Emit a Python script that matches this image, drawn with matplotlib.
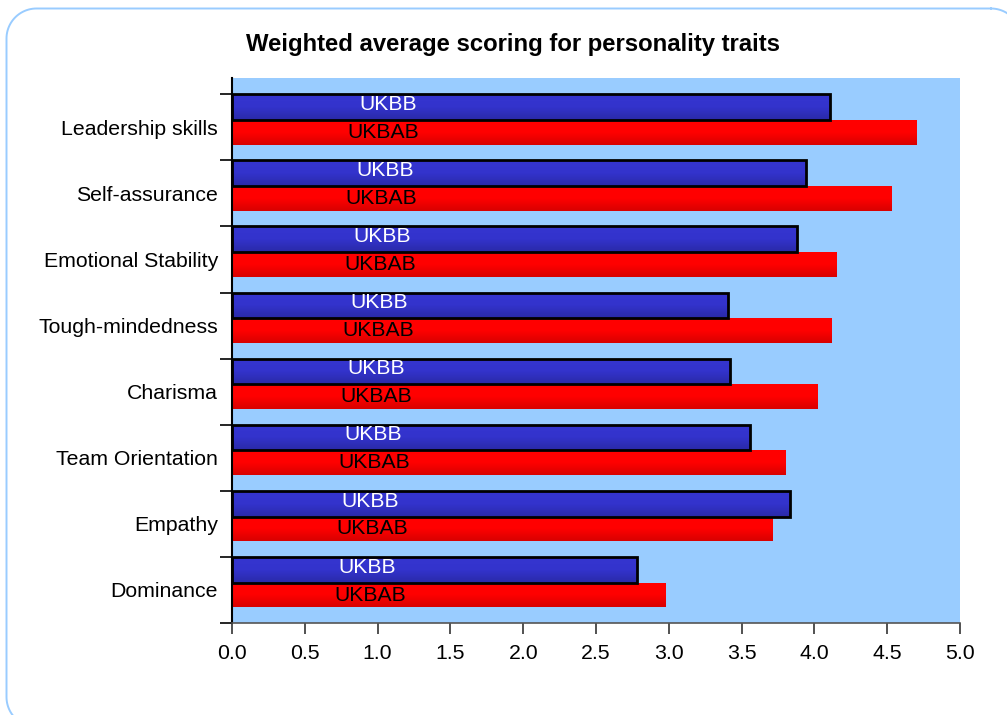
import numpy as np
import matplotlib.pyplot as plt
from matplotlib.colors import LinearSegmentedColormap

plt.rcParams['font.family'] = ['Liberation Sans', 'DejaVu Sans']

# Traits listed bottom-to-top
traits = ["Dominance", "Empathy", "Team Orientation", "Charisma",
          "Tough-mindedness", "Emotional Stability", "Self-assurance",
          "Leadership skills"]
ukbb = [2.78, 3.83, 3.56, 3.42, 3.41, 3.88, 3.94, 4.11]
ukbab = [2.98, 3.71, 3.80, 4.02, 4.12, 4.15, 4.53, 4.70]
series_names = ["UKBB", "UKBAB"]
x_ticks = [0.0, 0.5, 1.0, 1.5, 2.0, 2.5, 3.0, 3.5, 4.0, 4.5, 5.0]
title = "Weighted average scoring for personality traits"

W, H = 1007, 715
fig = plt.figure(figsize=(W / 100, H / 100), dpi=100)
fig.patch.set_facecolor('white')

# background layer in pixel units for the rounded outer frame
bg = fig.add_axes([0, 0, 1, 1], zorder=-1)
bg.set_xlim(0, W)
bg.set_ylim(H, 0)
bg.axis('off')


def rounded_rect(l, t, r, b, rad, n=24):
    pts = []
    corners = [(r - rad, t + rad, -90, 0), (r - rad, b - rad, 0, 90),
               (l + rad, b - rad, 90, 180), (l + rad, t + rad, 180, 270)]
    for cx, cy, a0, a1 in corners:
        a = np.radians(np.linspace(a0, a1, n))
        pts.append(np.column_stack([cx + rad * np.cos(a), cy + rad * np.sin(a)]))
    pts = np.vstack(pts + [pts[0][:1]])
    return pts[:, 0], pts[:, 1]


fx, fy = rounded_rect(6.5, 8.5, 1021, 727, 30)
bg.plot(fx, fy, color='#99CCFF', linewidth=1.4, clip_on=False)

ax = fig.add_axes([232 / W, 1 - 623 / H, (960 - 232) / W, (623 - 78) / H])
ax.set_facecolor('#99CCFF')

n = len(traits)
gap = 0.235
h_red = 0.375
h_blue = 1 - gap - h_red
idx = np.arange(n)
red_bottom = idx + gap
blue_bottom = idx + gap + h_red

red_bars = ax.barh(red_bottom, ukbab, height=h_red, align='edge',
                   color='#FF0000', linewidth=0, zorder=2)
blue_bars = ax.barh(blue_bottom, ukbb, height=h_blue, align='edge',
                    color='#3333CC', linewidth=0, zorder=2)

# soft vertical gradient on each bar
grad_red = LinearSegmentedColormap.from_list('r', ['#D80000', '#FF0000', '#FF0000'])
grad_blue = LinearSegmentedColormap.from_list('b', ['#2A2AA8', '#3333CC', '#3535D0'])
g = np.linspace(0, 1, 64).reshape(-1, 1)
for bars, cmap in ((red_bars, grad_red), (blue_bars, grad_blue)):
    for p in bars:
        x0, y0 = p.get_x(), p.get_y()
        im = ax.imshow(g, cmap=cmap, aspect='auto', origin='lower',
                       extent=(x0, x0 + p.get_width(), y0, y0 + p.get_height()),
                       zorder=2.2, interpolation='bilinear')
        im.set_clip_path(p)

# outline on the UKBB bars
ax.barh(blue_bottom, ukbb, height=h_blue, align='edge', facecolor='none',
        edgecolor='black', linewidth=2.0, zorder=3)

# series labels inside the bars
for i in range(n):
    ax.text(0.93 + 0.02 * i, blue_bottom[i] + h_blue / 2 + 0.04, series_names[0],
            color='white', fontsize=15.2, ha='center', va='center', zorder=4)
    ax.text(0.95 + 0.013 * i, red_bottom[i] + h_red / 2 + 0.0, series_names[1],
            color='black', fontsize=15.2, ha='center', va='center', zorder=4)

ax.set_xlim(0, 5.0)
ax.set_ylim(0, (623 - 78) / 66.1)

ax.set_xticks(x_ticks)
ax.set_xticklabels([f"{v:.1f}" for v in x_ticks])
ax.set_yticks(np.arange(n + 1))
ax.set_yticklabels([])
ax.set_yticks(idx + 0.5, minor=True)
ax.set_yticklabels(traits, minor=True)
ax.tick_params(axis='y', which='major', direction='out', length=9, width=1.2, color='black')
ax.tick_params(axis='y', which='minor', length=0, pad=10, labelsize=15.3)
ax.tick_params(axis='x', direction='out', length=8, width=1.2, color='#333333',
               labelsize=15.3, pad=7)

for s in ('top', 'right'):
    ax.spines[s].set_visible(False)
ax.spines['left'].set_color('black')
ax.spines['left'].set_linewidth(1.5)
ax.spines['bottom'].set_color('#555555')
ax.spines['bottom'].set_linewidth(1.2)

fig.text(513 / W, 1 - 44 / H, title, ha='center', va='center',
         fontsize=17.2, fontweight='bold')

fig.savefig('out.png', dpi=100)
